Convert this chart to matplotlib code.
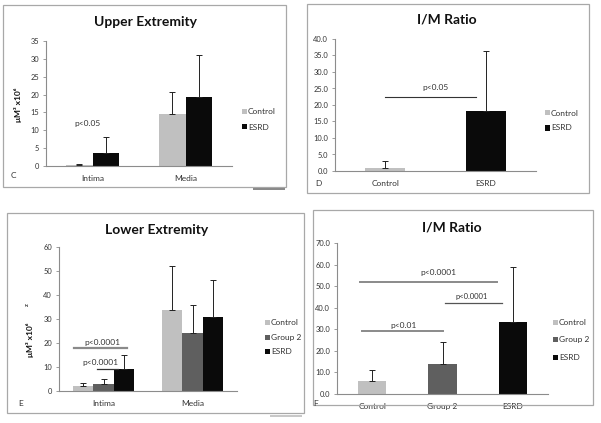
import matplotlib
matplotlib.use("Agg")
import matplotlib.pyplot as plt
from matplotlib.patches import Rectangle
import numpy as np

plt.rcParams['font.family'] = ['Lato', 'DejaVu Sans']

W, H = 601, 423

# ---------------- data ----------------
colors = {"Control": "#c0c0c0", "Group 2": "#5f5f5f", "ESRD": "#0a0a0a"}

# Panel C : Upper Extremity
c_title = "Upper Extremity"
c_categories = ["Intima", "Media"]
c_series = ["Control", "ESRD"]
c_control = [0.3, 14.6]
c_control_sd = [0.2, 6.0]
c_esrd = [3.7, 19.2]
c_esrd_sd = [4.3, 11.9]
c_yticks = [0, 5, 10, 15, 20, 25, 30, 35]

# Panel D : I/M Ratio (upper)
d_title = "I/M Ratio"
d_categories = ["Control", "ESRD"]
d_values = [1.0, 18.2]
d_sd = [2.0, 18.1]
d_yticks = [0, 5, 10, 15, 20, 25, 30, 35, 40]

# Panel E : Lower Extremity
e_title = "Lower Extremity"
e_categories = ["Intima", "Media"]
e_series = ["Control", "Group 2", "ESRD"]
e_control = [2.0, 33.7]
e_control_sd = [1.5, 18.3]
e_group2 = [3.0, 24.2]
e_group2_sd = [2.0, 11.6]
e_esrd = [9.0, 30.8]
e_esrd_sd = [6.2, 15.5]
e_yticks = [0, 10, 20, 30, 40, 50, 60]

# Panel F : I/M Ratio (lower)
f_title = "I/M Ratio"
f_categories = ["Control", "Group 2", "ESRD"]
f_values = [6.2, 14.0, 33.6]
f_sd = [5.0, 10.2, 25.4]
f_yticks = [0, 10, 20, 30, 40, 50, 60, 70]

# ---------------- helpers ----------------
fig = plt.figure(figsize=(W / 100, H / 100), dpi=100)
fig.patch.set_facecolor("white")


def fx(x):
    return x / W


def fy(y):
    return 1 - y / H


def frame(x0, y0, x1, y1, color="#a8a8a8", lw=0.9):
    fig.add_artist(Rectangle((fx(x0), fy(y1)), fx(x1) - fx(x0), fy(y0) - fy(y1),
                             transform=fig.transFigure, fill=False,
                             edgecolor=color, linewidth=lw))


def make_axes(left, right, top, bottom, ylim, yticks, fmt):
    ax = fig.add_axes([fx(left), fy(bottom), fx(right) - fx(left), fy(top) - fy(bottom)])
    ax.set_facecolor("none")
    for s in ["top", "right"]:
        ax.spines[s].set_visible(False)
    for s in ["left", "bottom"]:
        ax.spines[s].set_color("#8c8c8c")
        ax.spines[s].set_linewidth(0.8)
    ax.set_ylim(*ylim)
    ax.set_yticks(yticks)
    ax.set_yticklabels([fmt.format(v) for v in yticks])
    ax.tick_params(axis="y", length=2.5, width=0.6, color="#8c8c8c",
                   labelsize=5.4, labelcolor="#333333", pad=2.5)
    ax.tick_params(axis="x", length=0, labelsize=6, labelcolor="#333333", pad=6.5)
    return ax


def legend(x, ys, names):
    for y, n in zip(ys, names):
        fig.add_artist(Rectangle((fx(x), fy(y + 2.5)), 5 / W, 5 / H,
                                 transform=fig.transFigure, facecolor=colors[n],
                                 edgecolor="none"))
        fig.text(fx(x + 6), fy(y), n, fontsize=6, color="#333333",
                 va="center", ha="left")


err_kw = dict(ecolor="#222222", elinewidth=0.7, capsize=2.2, capthick=0.7)

# ---------------- frames ----------------
frame(3, 5, 286, 187)
fig.add_artist(Rectangle((fx(253), fy(190)), 32 / W, 2.2 / H, transform=fig.transFigure,
                         facecolor="#8a8a8a", edgecolor="none"))
frame(307, 4, 589, 193)
frame(7, 213, 304, 413)
fig.add_artist(Rectangle((fx(270), fy(417)), 32 / W, 1.8 / H, transform=fig.transFigure,
                         facecolor="#c8c8c8", edgecolor="none"))
frame(313, 210, 593, 405)

# ---------------- Panel C ----------------
ax = make_axes(46, 232, 41, 166, (0, 35), c_yticks, "{:g}")
x = np.arange(len(c_categories))
bw = 0.29
ax.bar(x - bw / 2, c_control, bw, color=colors["Control"],
       yerr=[np.zeros(len(x)), c_control_sd], error_kw=err_kw)
ax.bar(x + bw / 2, c_esrd, bw, color=colors["ESRD"],
       yerr=[np.zeros(len(x)), c_esrd_sd], error_kw=err_kw)
ax.set_xlim(-0.5, 1.5)
ax.set_xticks(x)
ax.set_xticklabels(c_categories)
ax.text(-0.05, 12.0, "p<0.05", fontsize=6, color="#333333", ha="center", va="center")
fig.text(fx(145), fy(22), c_title, fontsize=10, fontweight="bold", ha="center",
         va="center", color="#111111")
fig.text(fx(18), fy(105), "μM³ x10⁶", rotation=90, fontsize=6, fontweight="bold",
         ha="center", va="center", color="#111111")
fig.text(fx(13), fy(176), "C", fontsize=6, color="#333333", ha="center", va="center")
legend(242, [112, 127], c_series)

# ---------------- Panel D ----------------
ax = make_axes(335, 536, 39, 171, (0, 40), d_yticks, "{:.1f}")
x = np.arange(len(d_categories))
ax.bar(x, d_values, 0.4, color=[colors[c] for c in d_categories],
       yerr=[np.zeros(len(x)), d_sd], error_kw=err_kw)
ax.set_xlim(-0.5, 1.5)
ax.set_xticks(x)
ax.set_xticklabels(d_categories)
ax.plot([0.0, 0.9], [22.5, 22.5], color="#333333", lw=0.8)
ax.text(0.5, 25.2, "p<0.05", fontsize=6, color="#333333", ha="center", va="center")
fig.text(fx(447), fy(20), d_title, fontsize=10, fontweight="bold", ha="center",
         va="center", color="#111111")
fig.text(fx(318), fy(183), "D", fontsize=6, color="#333333", ha="center", va="center")
legend(545, [113, 128], ["Control", "ESRD"])

# ---------------- Panel E ----------------
ax = make_axes(59, 237, 247, 391, (0, 60), e_yticks, "{:g}")
x = np.arange(len(e_categories))
bw = 0.225
for off, vals, sds, name in [(-bw, e_control, e_control_sd, "Control"),
                             (0, e_group2, e_group2_sd, "Group 2"),
                             (bw, e_esrd, e_esrd_sd, "ESRD")]:
    ax.bar(x + off, vals, bw, color=colors[name],
           yerr=[np.zeros(len(x)), sds], error_kw=err_kw)
ax.set_xlim(-0.5, 1.5)
ax.set_xticks(x)
ax.set_xticklabels(e_categories)
ax.plot([-0.33, 0.26], [18.0, 18.0], color="#8a8a8a", lw=1.6)
ax.text(-0.01, 20.2, "p<0.0001", fontsize=6, color="#333333", ha="center", va="center")
ax.plot([-0.07, 0.16], [9.3, 9.3], color="#333333", lw=0.9)
ax.text(-0.04, 11.8, "p<0.0001", fontsize=6, color="#333333", ha="center", va="center")
fig.text(fx(157), fy(230), e_title, fontsize=10, fontweight="bold", ha="center",
         va="center", color="#111111")
fig.text(fx(30), fy(340), "μM³ x10⁶", rotation=90, fontsize=6, fontweight="bold",
         ha="center", va="center", color="#111111")
fig.text(fx(27), fy(305), "z", rotation=90, fontsize=4.5, fontweight="bold",
         ha="center", va="center", color="#333333")
fig.text(fx(21), fy(403), "E", fontsize=6, color="#333333", ha="center", va="center")
legend(265, [322, 337, 351], e_series)

# ---------------- Panel F ----------------
ax = make_axes(337, 548, 243, 394, (0, 70), f_yticks, "{:.1f}")
x = np.arange(len(f_categories))
ax.bar(x, f_values, 0.4, color=[colors[c] for c in f_categories],
       yerr=[np.zeros(len(x)), f_sd], error_kw=err_kw)
ax.set_xlim(-0.5, 2.5)
ax.set_xticks(x)
ax.set_xticklabels(f_categories)
ax.plot([-0.18, 1.78], [52.0, 52.0], color="#8a8a8a", lw=1.4)
ax.text(0.94, 56.3, "p<0.0001", fontsize=6, color="#333333", ha="center", va="center")
ax.plot([1.04, 1.85], [42.2, 42.2], color="#555555", lw=0.9)
ax.text(1.42, 45.2, "p<0.0001", fontsize=5.5, color="#333333", ha="center", va="center")
ax.plot([-0.14, 1.0], [29.2, 29.2], color="#8a8a8a", lw=1.4)
ax.text(0.44, 31.6, "p<0.01", fontsize=6, color="#333333", ha="center", va="center")
fig.text(fx(452), fy(227), f_title, fontsize=10, fontweight="bold", ha="center",
         va="center", color="#111111")
fig.text(fx(316), fy(403), "F", fontsize=6, color="#333333", ha="center", va="center")
legend(553, [322, 339, 357], f_categories)

fig.savefig("out.png", dpi=100, facecolor="white")
